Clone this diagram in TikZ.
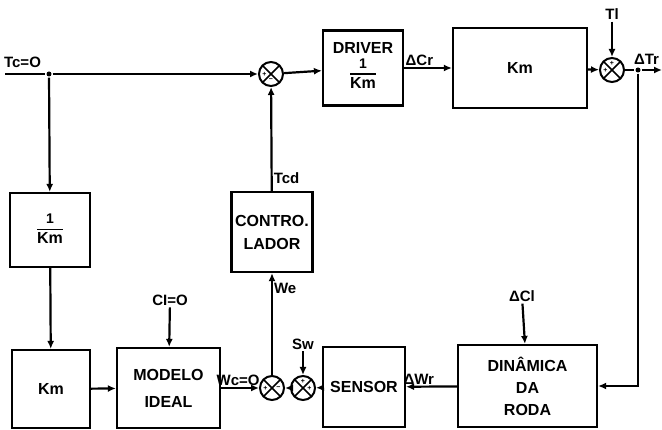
\documentclass[tikz,border=0pt]{standalone}
\usepackage{fontspec}
\setmainfont{Liberation Sans}
\usetikzlibrary{arrows.meta, positioning}
\setlength{\arrayrulewidth}{1.6pt}

\begin{document}
\begin{tikzpicture}[x=1pt, y=-1pt, line width=2.2pt,
    blk/.style={draw, align=center, inner sep=0pt, font=\fontsize{16}{19}\selectfont\bfseries},
    sumj/.style={draw, circle, minimum size=24pt, inner sep=0pt, line width=2pt,
        path picture={\draw[line width=1.6pt]
            (path picture bounding box.north west) -- (path picture bounding box.south east)
            (path picture bounding box.north east) -- (path picture bounding box.south west);}},
    sig/.style={font=\fontsize{15}{17}\selectfont\bfseries, inner sep=1pt},
    sgn/.style={font=\fontsize{7}{7}\selectfont\bfseries, inner sep=0pt},
    arr/.style={-{Latex[length=8pt,width=7pt]}},
    dot/.style={circle, fill, inner sep=0pt, minimum size=5pt}
]
    \useasboundingbox (0,0) rectangle (662,430);

    % --- upper path ---
    \coordinate (tc) at (5,74);
    \node[dot] (jl) at (49,74) {};
    \node[sig, anchor=south west] at (2,70) {Tc=O};
    \node[sumj] (s1) at (271,74) {};
    \node[blk, minimum width=80pt, minimum height=75pt] (drv) at (363,68)
        {DRIVER\\[1pt]\begin{tabular}{@{}c@{}}\fontsize{14}{15}\selectfont 1\\[-1pt]\hline Km\end{tabular}};
    \node[blk, minimum width=134pt, minimum height=80pt] (kmt) at (520,68) {Km};
    \node[sumj] (s2) at (612,70) {};
    \node[sig] (tl) at (612,14) {Tl};
    \node[dot] (jr) at (638,70) {};
    \coordinate (out) at (662,70);
    \coordinate (rc) at (638,386);

    % --- left column ---
    \node[blk, minimum width=80pt, minimum height=74pt] (inv) at (50,230)
        {\begin{tabular}{@{}c@{}}\fontsize{14}{15}\selectfont 1\\[-1pt]\hline Km\end{tabular}};
    \node[blk, minimum width=78pt, minimum height=78pt] (kmb) at (51,389) {Km};

    % --- controller ---
    \node[blk, minimum width=81pt, minimum height=80pt] (ctrl) at (272,232) {CONTRO.\\[4pt]LADOR};

    % --- lower path ---
    \node[blk, minimum width=103pt, minimum height=80pt] (mod) at (168.5,388) {MODELO\\[8pt]IDEAL};
    \node[sig] (ci) at (170,300) {CI=O};
    \node[sumj] (s3) at (272,388) {};
    \node[sumj] (s4) at (303,388) {};
    \node[sig] (sw) at (303,344) {Sw};
    \node[blk, minimum width=82pt, minimum height=80pt] (sen) at (364,387) {SENSOR};
    \node[blk, minimum width=139pt, minimum height=82pt] (din) at (527.5,386) {DINÂMICA\\[3pt]DA\\[3pt]RODA};
    \node[sig] (dcl) at (522,296) {ΔCl};

    % --- signs ---
    \node[sgn] at ([xshift=-6.5pt]s1.center) {+};
    \node[sgn] at ([yshift=-6.5pt]s1.center) {−};
    \node[sgn] at ([xshift=-6.5pt]s2.center) {+};
    \node[sgn] at ([yshift=6.5pt]s2.center) {+};
    \node[sgn] at ([xshift=-6.5pt]s3.center) {+};
    \node[sgn] at ([xshift=6.5pt]s3.center) {−};
    \node[sgn] at ([xshift=6.5pt]s4.center) {+};
    \node[sgn] at ([yshift=6.5pt]s4.center) {+};

    % --- connectors ---
    \draw (tc) -- (jl);
    \draw[arr] (jl) -- (s1);
    \draw[arr] (s1) -- (drv);
    \draw[arr] (drv) -- node[sig, above, pos=0.32] {ΔCr} (kmt);
    \draw[arr] (kmt) -- (s2);
    \draw[arr] (tl) -- (s2);
    \draw (s2) -- (jr);
    \node[sig, above right=0pt and -6pt of jr.north] {ΔTr};
    \draw[arr] (jr) -- (out);
    \draw[arr] (jr) -- (rc) -- (din);
    \draw[arr] (jl) -- (inv);
    \draw[arr] (inv) -- (kmb);
    \draw[arr] (kmb) -- (mod);
    \draw[arr] (ci) -- (mod);
    \draw[arr] (dcl) -- (din);
    \draw[arr] (din) -- node[sig, above, pos=0.75] {ΔWr} (sen);
    \draw[arr] (sen) -- (s4);
    \draw[arr] (sw) -- (s4);
    \draw[arr] (s4) -- (s3);
    \draw[arr] (mod) -- node[sig, above, pos=0.45] {Wc=O} (s3);
    \draw[arr] (s3) -- node[sig, right, pos=0.85] {We} (ctrl);
    \draw[arr] (ctrl) -- node[sig, right, pos=0.12] {Tcd} (s1);
\end{tikzpicture}
\end{document}
